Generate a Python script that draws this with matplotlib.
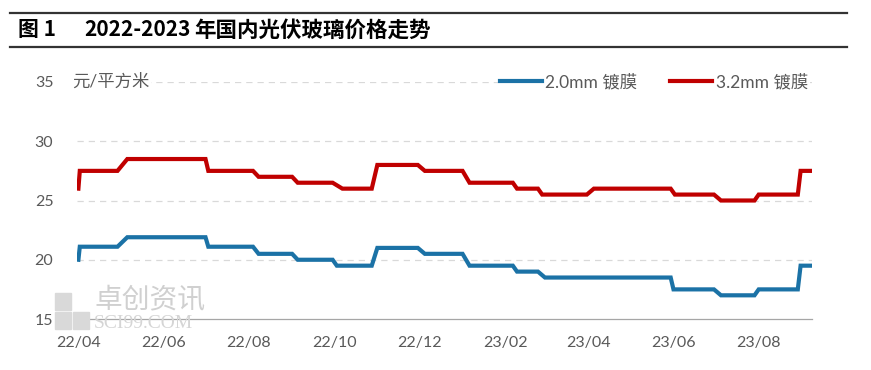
import matplotlib
matplotlib.use('Agg')
import matplotlib.pyplot as plt
import numpy as np

plt.rcParams['font.family'] = ['Lato', 'Noto Sans CJK SC', 'DejaVu Sans']

# price change points, 元/平方米
dates_20 = ['2022-04-01', '2022-04-02', '2022-04-29', '2022-05-06', '2022-07-01',
            '2022-07-03', '2022-08-04', '2022-08-08', '2022-09-01', '2022-09-05',
            '2022-09-30', '2022-10-03', '2022-10-28', '2022-11-01', '2022-11-30',
            '2022-12-05', '2023-01-01', '2023-01-06', '2023-02-06', '2023-02-09',
            '2023-02-24', '2023-03-01', '2023-05-30', '2023-06-01', '2023-06-30',
            '2023-07-05', '2023-07-29', '2023-08-01', '2023-08-29', '2023-08-31',
            '2023-09-07']
price_20 = [20.0, 21.1, 21.1, 21.9, 21.9,
            21.1, 21.1, 20.5, 20.5, 20.0,
            20.0, 19.5, 19.5, 21.0, 21.0,
            20.5, 20.5, 19.5, 19.5, 19.0,
            19.0, 18.5, 18.5, 17.5, 17.5,
            17.0, 17.0, 17.5, 17.5, 19.5,
            19.5]

dates_32 = ['2022-04-01', '2022-04-02', '2022-04-29', '2022-05-06', '2022-07-01',
            '2022-07-03', '2022-08-04', '2022-08-08', '2022-09-01', '2022-09-05',
            '2022-09-30', '2022-10-07', '2022-10-28', '2022-11-01', '2022-11-30',
            '2022-12-05', '2023-01-01', '2023-01-06', '2023-02-06', '2023-02-09',
            '2023-02-24', '2023-02-27', '2023-03-31', '2023-04-05', '2023-05-30',
            '2023-06-02', '2023-06-30', '2023-07-05', '2023-07-29', '2023-08-01',
            '2023-08-29', '2023-08-31', '2023-09-07']
price_32 = [26.0, 27.5, 27.5, 28.5, 28.5,
            27.5, 27.5, 27.0, 27.0, 26.5,
            26.5, 26.0, 26.0, 28.0, 28.0,
            27.5, 27.5, 26.5, 26.5, 26.0,
            26.0, 25.5, 25.5, 26.0, 26.0,
            25.5, 25.5, 25.0, 25.0, 25.5,
            25.5, 27.5, 27.5]

tick_dates = ['2022-04-01', '2022-06-01', '2022-08-01', '2022-10-01', '2022-12-01',
              '2023-02-01', '2023-04-01', '2023-06-01', '2023-08-01']
tick_labels = ['22/04', '22/06', '22/08', '22/10', '22/12',
               '23/02', '23/04', '23/06', '23/08']

fig = plt.figure(figsize=(8.71, 3.70), dpi=100)
ax = fig.add_axes([0.0884, 0.1378, 0.8436, 0.6406])

grey = '#595959'
ax.plot(np.array(dates_20, dtype='datetime64[D]'), price_20, color='#1B72A6',
        lw=3.0, label='2.0mm 镀膜', solid_joinstyle='miter', zorder=3)
ax.plot(np.array(dates_32, dtype='datetime64[D]'), price_32, color='#C00000',
        lw=3.0, label='3.2mm 镀膜', solid_joinstyle='miter', zorder=3)

ax.set_xlim(np.datetime64('2022-03-31'), np.datetime64('2023-09-08'))
ax.set_ylim(15, 35)
ax.set_yticks([15, 20, 25, 30, 35])
ax.set_xticks(np.array(tick_dates, dtype='datetime64[D]'))
ax.set_xticklabels(tick_labels)
ax.tick_params(length=0, labelsize=11.5, colors=grey)
ax.tick_params(axis='x', pad=12)
ax.tick_params(axis='y', pad=17)

for y in [20, 25, 30, 35]:
    ax.axhline(y, color='#D9D9D9', lw=0.9, ls=(0, (5, 4)), zorder=1)
for s in ['top', 'right', 'left']:
    ax.spines[s].set_visible(False)
ax.spines['bottom'].set_color('#A6A6A6')
ax.spines['bottom'].set_linewidth(0.9)

ax.text(-0.006, 35, '元/平方米', transform=ax.get_yaxis_transform(),
        fontsize=12.5, color=grey, va='center', ha='left',
        bbox=dict(facecolor='white', edgecolor='none', pad=1))

leg = ax.legend(loc='center right', bbox_to_anchor=(0.997, 1.0), ncol=2,
                frameon=True, fontsize=12.5, handlelength=2.4,
                handletextpad=0.2, columnspacing=1.9, borderaxespad=0,
                borderpad=0.1)
leg.get_frame().set_edgecolor('none')
leg.get_frame().set_facecolor('white')
leg.get_frame().set_alpha(1)
for t in leg.get_texts():
    t.set_color(grey)

# watermark
fig.text(0.108, 1 - 300 / 370, '卓创资讯', fontsize=20, color='#D0D0D0',
         family='Noto Sans CJK SC', va='center', ha='left', zorder=0)
fig.text(0.108, 1 - 323 / 370, 'SCI99.COM', fontsize=14, color='#D5D5D5',
         family='Liberation Serif', va='center', ha='left', zorder=0)
for (x0, y0) in [(55, 293), (55, 312), (73, 312)]:
    fig.patches.append(plt.Rectangle((x0 / 871, 1 - (y0 + 17) / 370), 16 / 871,
                                     17 / 370, color='#D9D9D9',
                                     transform=fig.transFigure, zorder=0))

# title block
fig.add_artist(plt.Line2D([0.012, 0.972], [1 - 13 / 370] * 2, color='#333333',
                          lw=1.6, transform=fig.transFigure))
fig.add_artist(plt.Line2D([0.012, 0.972], [1 - 47 / 370] * 2, color='#333333',
                          lw=1.6, transform=fig.transFigure))
title_y = 1 - 30 / 370
fig.text(18 / 871, title_y, '图 1', fontsize=15, fontweight='bold',
         color='black', va='center', ha='left', family='Noto Sans CJK SC')
fig.text(84 / 871, title_y, '2022-2023', fontsize=15, fontweight='bold',
         color='black', va='center', ha='left', family='Noto Sans CJK SC')
fig.text(194 / 871, title_y, '年国内光伏玻璃价格走势', fontsize=15.5,
         fontweight='bold', color='black', va='center', ha='left',
         family='Noto Sans CJK SC')

plt.savefig('out.png', dpi=100)
